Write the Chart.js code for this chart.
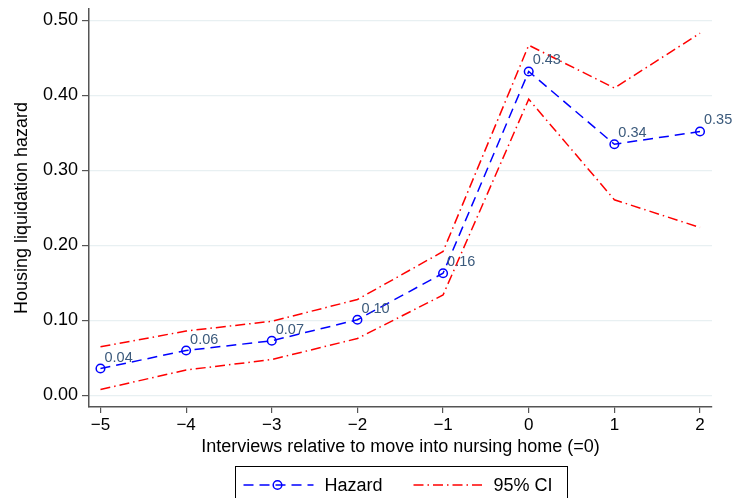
<!DOCTYPE html>
<html>
<head>
<meta charset="utf-8">
<script src="https://cdn.jsdelivr.net/npm/chart.js@4/dist/chart.umd.min.js"></script>
<style>
  html, body { margin: 0; padding: 0; background: #fff; }
  #wrap { width: 732px; height: 498px; }
</style>
</head>
<body>
<div id="wrap"><canvas id="hazardChart" width="732" height="498"></canvas></div>
<script>
// interviews relative to the move (0 = move into nursing home)
var periods = [-5, -4, -3, -2, -1, 0, 1, 2];
var hazard = [0.036, 0.060, 0.073, 0.101, 0.163, 0.432, 0.335, 0.352];
var ciUpper = [0.065, 0.086, 0.099, 0.128, 0.192, 0.467, 0.410, 0.483];
var ciLower = [0.008, 0.034, 0.048, 0.076, 0.134, 0.395, 0.261, 0.224];
var xTicks = [-5, -4, -3, -2, -1, 0, 1, 2];
var yTicks = [0, 0.1, 0.2, 0.3, 0.4, 0.5];

var FONT = "'Liberation Sans', Arial, Helvetica, sans-serif";

function pts(vals) {
  return periods.map(function (p, i) {
    return { x: p, y: vals[i] };
  });
}

// value labels next to the hazard markers
var pointLabels = {
  id: "pointLabels",
  afterDatasetsDraw: function (chart) {
    var ctx = chart.ctx;
    var meta = chart.getDatasetMeta(0);
    ctx.save();
    ctx.font = "14.5px " + FONT;
    ctx.fillStyle = "#3b5a7c";
    ctx.textAlign = "left";
    ctx.textBaseline = "middle";
    meta.data.forEach(function (pt, i) {
      ctx.fillText(hazard[i].toFixed(2), pt.x + 4, pt.y - 11);
    });
    ctx.restore();
  },
};

// boxed legend under the axis title
var boxLegend = {
  id: "boxLegend",
  afterDraw: function (chart) {
    var ctx = chart.ctx;
    var ds = chart.data.datasets;
    var area = chart.chartArea;
    var w = 332;
    var left = Math.round((area.left + area.right) / 2 - w / 2) + 0.5;
    var top = 466.5;
    var cy = 485;
    ctx.save();
    ctx.strokeStyle = "#000";
    ctx.lineWidth = 1;
    ctx.strokeRect(left, top, w, 60);

    // hazard sample
    ctx.strokeStyle = ds[0].borderColor;
    ctx.lineWidth = 1.5;
    ctx.setLineDash(ds[0].borderDash);
    ctx.beginPath();
    ctx.moveTo(left + 8, cy);
    ctx.lineTo(left + 78, cy);
    ctx.stroke();
    ctx.setLineDash([]);
    ctx.beginPath();
    ctx.arc(left + 42, cy, 4.3, 0, Math.PI * 2);
    ctx.stroke();

    // CI sample
    ctx.strokeStyle = ds[1].borderColor;
    ctx.setLineDash(ds[1].borderDash);
    ctx.beginPath();
    ctx.moveTo(left + 178, cy);
    ctx.lineTo(left + 248, cy);
    ctx.stroke();
    ctx.setLineDash([]);

    ctx.fillStyle = "#000";
    ctx.font = "18px " + FONT;
    ctx.textBaseline = "middle";
    ctx.textAlign = "left";
    ctx.fillText(ds[0].label, left + 89, cy + 1);
    ctx.fillText("95% CI", left + 258, cy + 1);
    ctx.restore();
  },
};

var ctx = document.getElementById("hazardChart").getContext("2d");
var hazardChart = new Chart(ctx, {
  type: "line",
  data: {
    datasets: [
      {
        label: "Hazard",
        data: pts(hazard),
        borderColor: "#0000ff",
        borderWidth: 1.5,
        borderDash: [10, 6],
        pointRadius: 4.3,
        pointBorderWidth: 1.5,
        pointBackgroundColor: "rgba(0,0,0,0)",
        pointBorderColor: "#0000ff",
        tension: 0,
      },
      {
        label: "95% CI",
        data: pts(ciUpper),
        borderColor: "#ff0000",
        borderWidth: 1.5,
        borderDash: [10, 4, 1.5, 4],
        pointRadius: 0,
        tension: 0,
      },
      {
        label: "95% CI lower",
        data: pts(ciLower),
        borderColor: "#ff0000",
        borderWidth: 1.5,
        borderDash: [10, 4, 1.5, 4],
        pointRadius: 0,
        tension: 0,
      },
    ],
  },
  options: {
    responsive: false,
    animation: false,
    layout: { padding: { left: 11, right: 20, top: 9, bottom: 40 } },
    plugins: {
      legend: { display: false },
      tooltip: { enabled: false },
    },
    scales: {
      x: {
        type: "linear",
        min: -5.134,
        max: 2.14,
        afterBuildTicks: function (scale) {
          scale.ticks = xTicks.map(function (v) { return { value: v }; });
        },
        afterFit: function (scale) {
          scale.height = 51;
          scale.paddingLeft = 0;
          scale.paddingRight = 0;
        },
        border: { display: true, color: "#555", width: 1.5 },
        grid: {
          drawOnChartArea: false,
          drawTicks: true,
          tickLength: 6,
          tickColor: "#555",
          lineWidth: 1.2,
        },
        ticks: {
          color: "#000",
          padding: 2,
          maxRotation: 0,
          font: { family: FONT, size: 17 },
          callback: function (v) {
            return v < 0 ? "\u2212" + Math.abs(v) : String(v);
          },
        },
        title: {
          display: true,
          text: "Interviews relative to move into nursing home (=0)",
          color: "#000",
          font: { family: FONT, size: 18 },
          padding: { top: 0, bottom: 0 },
        },
      },
      y: {
        min: -0.0153,
        max: 0.5153,
        afterBuildTicks: function (scale) {
          scale.ticks = yTicks.map(function (v) { return { value: v }; });
        },
        afterFit: function (scale) {
          scale.width = 78;
          scale.paddingTop = 0;
          scale.paddingBottom = 0;
        },
        border: { display: true, color: "#555", width: 1.5 },
        grid: {
          color: "#e8f0f2",
          lineWidth: 1.2,
          drawTicks: true,
          tickLength: 7,
          tickColor: "#555",
        },
        ticks: {
          color: "#000",
          padding: 4,
          font: { family: FONT, size: 18 },
          callback: function (v) { return Number(v).toFixed(2); },
        },
        title: {
          display: true,
          text: "Housing liquidation hazard",
          color: "#000",
          font: { family: FONT, size: 18 },
          padding: { top: 0, bottom: 0 },
        },
      },
    },
  },
  plugins: [pointLabels, boxLegend],
});
</script>
</body>
</html>
